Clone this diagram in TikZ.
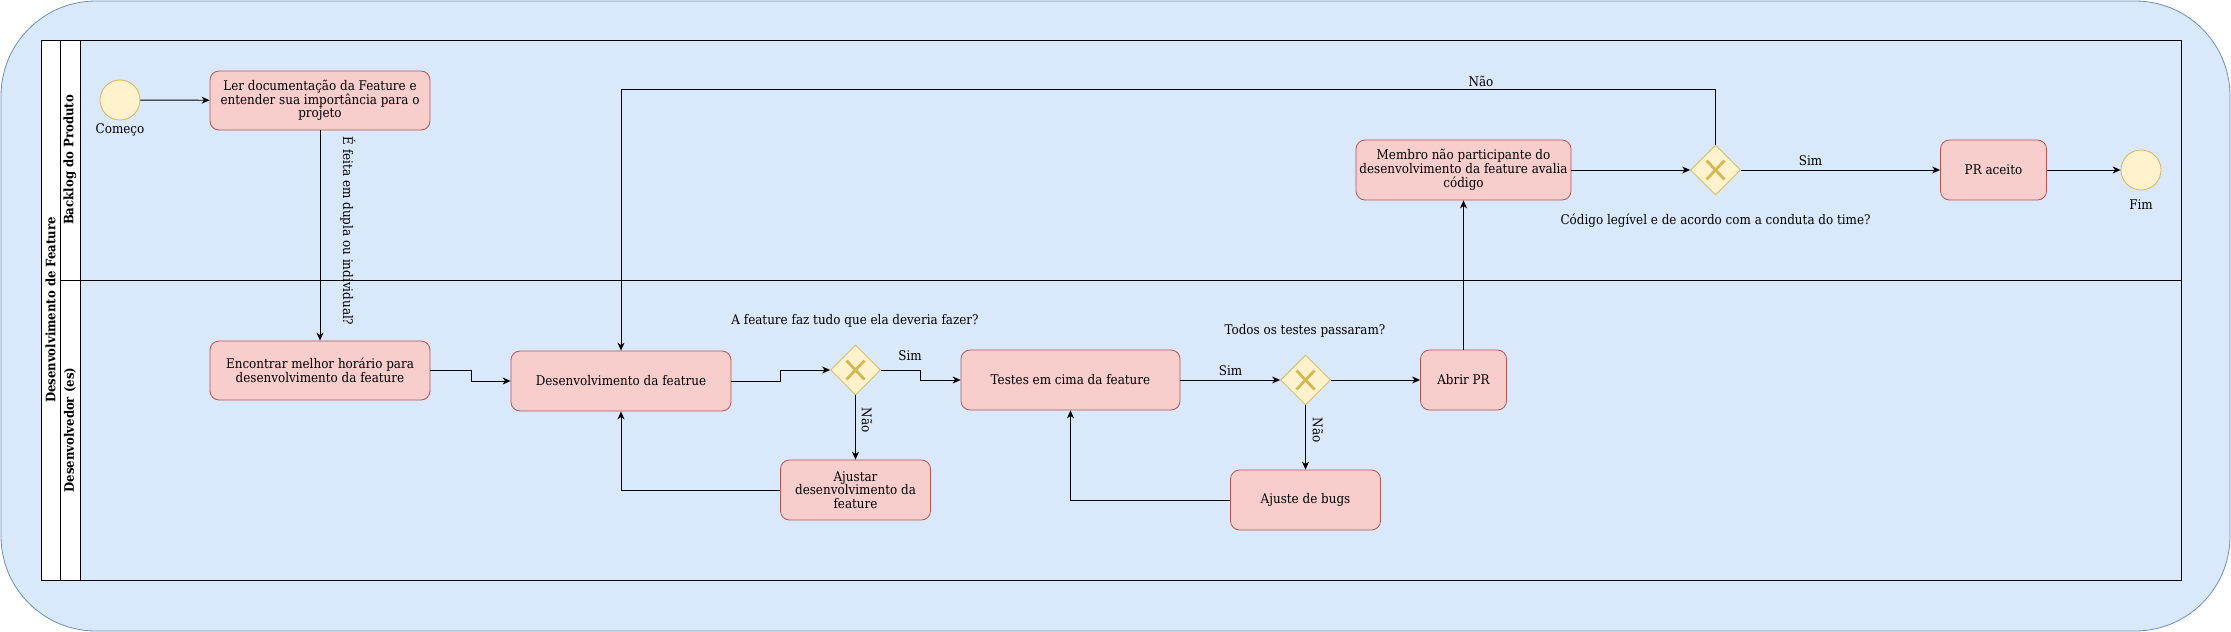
\documentclass[tikz,border=0pt]{standalone}
\usepackage{fontspec}
\setmainfont{DejaVu Serif Condensed}
\usetikzlibrary{shapes.geometric,arrows.meta,calc}
\definecolor{bgfill}{HTML}{DAE8FC}
\definecolor{bgline}{HTML}{6C8EBF}
\definecolor{taskfill}{HTML}{F8CECC}
\definecolor{taskline}{HTML}{B85450}
\definecolor{gwfill}{HTML}{FFF2CC}
\definecolor{gwline}{HTML}{D6B656}
\begin{document}
\begin{tikzpicture}[x=1pt,y=-1pt,
  every node/.style={font=\fontsize{13.3}{13.8}\selectfont},
  task/.style={draw=taskline,fill=taskfill,rounded corners=9pt,align=center,inner sep=2pt,line width=0.8pt},
  gw/.style={diamond,draw=gwline,fill=gwfill,minimum width=50pt,minimum height=50pt,inner sep=0pt,line width=0.8pt},
  ev/.style={circle,draw=gwline,fill=gwfill,minimum size=40pt,inner sep=0pt,line width=0.8pt},
  flow/.style={draw=black,line width=0.9pt,-{Stealth[length=8pt,width=7pt,inset=2.5pt]}},
  lbl/.style={inner sep=1pt},
  xmark/.style={draw=gwline,line width=2.8pt},
  lanetitle/.style={rotate=90,font=\fontsize{13}{15}\selectfont\bfseries}
]
\useasboundingbox (0,0) rectangle (2231,632);
% background
\draw[fill=bgfill,draw=bgline,line width=0.8pt,rounded corners=95pt] (1,1) rectangle (2230,631);
% pool
\draw[fill=white,line width=0.9pt] (41,40) rectangle (80,580);
\draw[line width=0.9pt] (41,40) rectangle (2181,580);
\draw[line width=0.9pt] (60,40) -- (60,580);
\draw[line width=0.9pt] (80,40) -- (80,580);
\draw[line width=0.9pt] (60,280) -- (2181,280);
\node[lanetitle] (pooltitle) at (50.5,310) {Desenvolvimento de Feature};
\node[lanetitle] (lane1) at (70,160) {Backlog do Produto};
\node[lanetitle] (lane2) at (70,430) {Desenvolvedor (es)};

% events
\node[ev] (start) at (120,100) {};
\node (startlbl) at (120,130) {Começo};
\node[ev] (fim) at (2141,170) {};
\node (fimlbl) at (2141,205) {Fim};

% tasks
\node[task,minimum width=220pt,minimum height=59pt] (t1) at (320,100.5) {Ler documentação da Feature e\\entender sua importância para o\\projeto};
\node[task,minimum width=220pt,minimum height=59pt] (t2) at (320,370.5) {Encontrar melhor horário para\\desenvolvimento da feature};
\node[task,minimum width=220pt,minimum height=60pt] (t3) at (621,381) {Desenvolvimento da featrue};
\node[task,minimum width=219pt,minimum height=60pt] (t4) at (1070.5,380) {Testes em cima da feature};
\node[task,minimum width=150pt,minimum height=60pt] (t5) at (855.5,490) {Ajustar\\desenvolvimento da\\feature};
\node[task,minimum width=150pt,minimum height=60pt] (t7) at (1305.5,500) {Ajuste de bugs};
\node[task,minimum width=86pt,minimum height=60pt] (t6) at (1463.5,380) {Abrir PR};
\node[task,minimum width=215pt,minimum height=60pt] (t8) at (1463.5,170) {Membro não participante do\\desenvolvimento da feature avalia\\código};
\node[task,minimum width=106pt,minimum height=60pt] (t9) at (1993.5,170) {PR aceito};

% gateways
\node[gw] (g1) at (855.5,370) {};
\node[gw] (g2) at (1305.5,380) {};
\node[gw] (g3) at (1715.5,170) {};
\foreach \g in {g1,g2,g3}{
  \draw[xmark] ($(\g)+(-9,-9.5)$) -- ($(\g)+(9,9.5)$);
  \draw[xmark] ($(\g)+(-9,9.5)$) -- ($(\g)+(9,-9.5)$);
}
\node (q1) at (855,320.5) {A feature faz tudo que ela deveria fazer?};
\node (q2) at (1305,331) {Todos os testes passaram?};
\node (q3) at (1715.5,221) {Código legível e de acordo com a conduta do time?};

% flows
\draw[flow] (start) -- (t1);
\draw[flow] (t1) -- (t2);
\node[rotate=-90,lbl] (l1) at (348,231) {É feita em dupla ou individual?};
\draw[flow] (t2.east) -- ++(41,0) |- (t3.west);
\draw[flow] (t3.east) -- ++(49,0) |- (g1.west);
\draw[flow] (g1.east) -- ++(40,0) |- (t4.west);
\node[lbl] (ls1) at (910,356) {Sim};
\draw[flow] (g1.south) -- (t5.north);
\node[rotate=-90,lbl] (ln1) at (867,420) {Não};
\draw[flow] (t5.west) -| (t3.south);
\draw[flow] (t4.east) -- (g2.west);
\node[lbl] (ls2) at (1230.5,370.5) {Sim};
\draw[flow] (g2.east) -- (t6.west);
\draw[flow] (g2.south) -- (t7.north);
\node[rotate=-90,lbl] (ln2) at (1318,430) {Não};
\draw[flow] (t7.west) -| (t4.south);
\draw[flow] (t6.north) -- (t8.south);
\draw[flow] (t8.east) -- (g3.west);
\draw[flow] (g3.north) -- ++(0,-55) -| (t3.north);
\node[lbl] (ln3) at (1481,81) {Não};
\draw[flow] (g3.east) -- (t9.west);
\node[lbl] (ls3) at (1810.5,161) {Sim};
\draw[flow] (t9.east) -- (fim.west);
\end{tikzpicture}
\end{document}
